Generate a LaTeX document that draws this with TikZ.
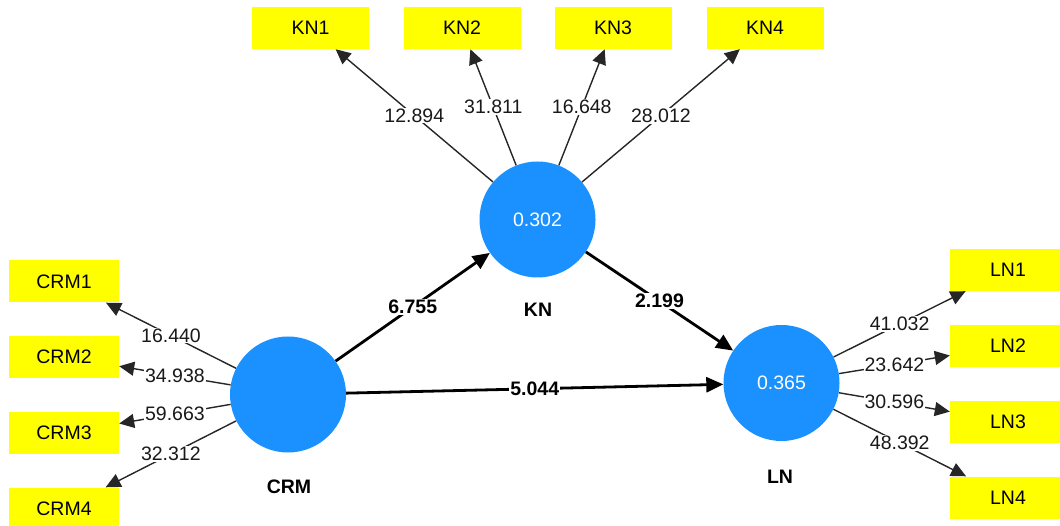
\documentclass[tikz,border=0pt]{standalone}
\usepackage{fontspec}
\setmainfont{Liberation Sans}
\usetikzlibrary{arrows.meta}
\definecolor{lvblue}{RGB}{26,145,255}
\definecolor{indyellow}{RGB}{255,255,0}
\newcommand\fsz{\fontsize{19.5}{22}\selectfont}
\begin{document}
\begin{tikzpicture}[x=1pt,y=-1pt,
  indk/.style={rectangle, fill=indyellow, minimum width=117pt, minimum height=42pt, inner sep=0pt, font=\fsz},
  indc/.style={rectangle, fill=indyellow, minimum width=110pt, minimum height=42pt, inner sep=0pt, font=\fsz},
  indl/.style={rectangle, fill=indyellow, minimum width=116pt, minimum height=42pt, inner sep=0pt, font=\fsz},
  lv/.style={circle, fill=lvblue, minimum size=116pt, inner sep=0pt, text=white, font=\fsz},
  lvname/.style={font=\fsz\bfseries, inner sep=1pt},
  load/.style={draw=black!85, line width=1.4pt, -{Triangle[length=15pt,width=14pt]}},
  struct/.style={draw=black, line width=2.8pt, -{Triangle[length=17pt,width=15pt]}},
  lbl/.style={fill=white, inner sep=1pt, font=\fsz, text=black!90},
  plbl/.style={fill=white, inner sep=1pt, font=\fsz\bfseries},
]
\useasboundingbox (0,0) rectangle (1060,526);
% latent variables
\node[lv] (KN) at (537.5,219.5) {0.302};
\node[lv] (CRM) at (288,394.5) {};
\node[lv] (LN) at (781.5,383) {0.365};
\node[lvname] (KNl) at (538,310) {KN};
\node[lvname] (CRMl) at (289,487) {CRM};
\node[lvname] (LNl) at (780,477) {LN};
% indicators
\node[indk] (KN1) at (310.5,28) {KN1};
\node[indk] (KN2) at (462,28) {KN2};
\node[indk] (KN3) at (613,28) {KN3};
\node[indk] (KN4) at (765,28) {KN4};
\node[indc] (CRM1) at (64,281.5) {CRM1};
\node[indc] (CRM2) at (64,357) {CRM2};
\node[indc] (CRM3) at (64,433) {CRM3};
\node[indc] (CRM4) at (64,508.5) {CRM4};
\node[indl] (LN1) at (1008,270) {LN1};
\node[indl] (LN2) at (1008,346) {LN2};
\node[indl] (LN3) at (1008,421.5) {LN3};
\node[indl] (LN4) at (1008,497.5) {LN4};
% loadings
\draw[load] (KN) -- node[lbl]{12.894} (KN1);
\draw[load] (KN) -- node[lbl]{31.811} (KN2);
\draw[load] (KN) -- node[lbl]{16.648} (KN3);
\draw[load] (KN) -- node[lbl]{28.012} (KN4);
\draw[load] (CRM) -- node[lbl]{16.440} (CRM1);
\draw[load] (CRM) -- node[lbl]{34.938} (CRM2);
\draw[load] (CRM) -- node[lbl]{59.663} (CRM3);
\draw[load] (CRM) -- node[lbl]{32.312} (CRM4);
\draw[load] (LN) -- node[lbl]{41.032} (LN1);
\draw[load] (LN) -- node[lbl]{23.642} (LN2);
\draw[load] (LN) -- node[lbl]{30.596} (LN3);
\draw[load] (LN) -- node[lbl]{48.392} (LN4);
% structural paths
\draw[struct] (CRM) -- node[plbl]{6.755} (KN);
\draw[struct] (KN) -- node[plbl]{2.199} (LN);
\draw[struct] (CRM) -- node[plbl]{5.044} (LN);
\end{tikzpicture}
\end{document}
